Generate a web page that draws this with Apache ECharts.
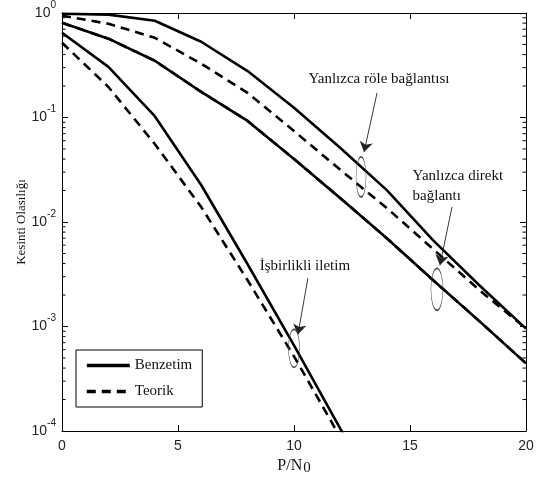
<!DOCTYPE html>
<html>
<head>
<meta charset="utf-8">
<script src="https://cdn.jsdelivr.net/npm/echarts@6/dist/echarts.min.js"></script>
<style>html,body{margin:0;padding:0;background:#fff}#c{width:543px;height:483px}</style>
</head>
<body>
<div id="c"></div>
<script>
// ---- data ----
const xValues = [0, 2, 4, 6, 8, 10, 12, 14, 16, 18, 20];
const xTicks = [0, 5, 10, 15, 20];
const yTickExponents = [0, -1, -2, -3, -4];

// Yanlızca röle bağlantısı (relay only)
const relaySim    = [0.984, 0.964, 0.843, 0.531, 0.278, 0.124, 0.0511, 0.0202, 0.00668, 0.00247, 0.000955];
const relayTheory = [0.942, 0.789, 0.579, 0.327, 0.172, 0.0743, 0.0315, 0.0136, 0.0055, 0.00222, 0.000955];
// Yanlızca direkt bağlantı (direct only) – theory coincides with simulation
const directSim    = [0.807, 0.568, 0.349, 0.176, 0.0927, 0.0401, 0.0169, 0.0070, 0.00277, 0.00112, 0.000444];
const directTheory = [0.807, 0.568, 0.349, 0.176, 0.0927, 0.0401, 0.0169, 0.0070, 0.00277, 0.00112, 0.000444];
// İşbirlikli iletim (cooperative)
const coopSim    = [0.647, 0.305, 0.103, 0.0226, 0.00394, 0.000661, 0.000105, 0.000016];
const coopTheory = [0.519, 0.196, 0.0558, 0.0139, 0.00277, 0.000518, 0.0000867];

const legendNames = ['Benzetim', 'Teorik'];
const annotations = {
  relay:  { text: 'Yanlızca röle bağlantısı', textAt: [13.66, 0.235], arrowFrom: [13.58, 0.172], arrowTo: [13.02, 0.0468], ellipseAt: [12.89, 0.027], size: [10, 40] },
  direct: { text: 'Yanlızca direkt\nbağlantı', textAt: [15.09, 0.0219], arrowFrom: [16.81, 0.0139], arrowTo: [16.29, 0.00386], ellipseAt: [16.16, 0.00227], size: [12, 42] },
  coop:   { text: 'İşbirlikli iletim', textAt: [10.47, 0.00378], arrowFrom: [10.6, 0.0029], arrowTo: [10.17, 0.00084], ellipseAt: [10.0, 0.000618], size: [11, 38] }
};

// ---- helpers ----
const pairs = arr => arr.map((v, i) => [xValues[i], v]);
const SERIF = '"Liberation Serif", "Times New Roman", serif';
const SANS = '"Liberation Sans", Arial, sans-serif';
const solidStyle = { color: '#000', width: 2.6, type: 'solid' };
const dashStyle = { color: '#000', width: 2.6, type: [9, 6] };

function lineSeries(name, arr, style, z) {
  return {
    type: 'line', name: name, data: pairs(arr), showSymbol: false, symbol: 'none',
    lineStyle: style, itemStyle: { color: '#000' }, z: z, silent: true, animation: false, clip: true
  };
}

// minor tick values for log axis (2..9 x 10^k)
const minorTicks = [];
for (let e = -4; e < 0; e++) for (let m = 2; m <= 9; m++) minorTicks.push(m * Math.pow(10, e));

const markPts = [];
const markLns = [];
Object.values(annotations).forEach(a => {
  const multi = a.text.indexOf('\n') >= 0;
  markPts.push({
    coord: a.textAt, symbol: 'rect', symbolSize: 1, itemStyle: { color: 'rgba(0,0,0,0)' },
    label: {
      show: true, formatter: a.text, position: multi ? 'right' : 'inside', distance: 0,
      fontFamily: SERIF, fontSize: 15, color: '#111', align: multi ? 'left' : 'center', lineHeight: 20
    }
  });
  markPts.push({
    coord: a.ellipseAt, symbol: 'circle', symbolSize: a.size,
    itemStyle: { color: 'rgba(0,0,0,0)', borderColor: '#444', borderWidth: 0.9 },
    label: { show: false }
  });
  markLns.push([{ coord: a.arrowFrom }, { coord: a.arrowTo }]);
});

const option = {
  animation: false,
  backgroundColor: '#fff',
  grid: { left: 62, right: 17, top: 13, bottom: 52, containLabel: false },
  legend: {
    data: legendNames, orient: 'vertical', left: 76, top: 350,
    itemWidth: 43, itemHeight: 14, itemGap: 11,
    padding: [8, 10, 8, 9], borderColor: '#000', borderWidth: 1, backgroundColor: '#fff',
    textStyle: { fontFamily: SERIF, fontSize: 15, color: '#111' },
    lineStyle: { width: 3.6 },
    itemStyle: { color: 'rgba(0,0,0,0)', borderWidth: 0, opacity: 0 },
    selectedMode: false
  },
  xAxis: [{
    type: 'value', min: 0, max: 20, interval: 5, position: 'bottom',
    name: '{a|P/N}{s|0}', nameLocation: 'middle', nameGap: 27, nameMoveOverlap: false,
    nameTextStyle: {
      rich: {
        a: { fontFamily: SERIF, fontSize: 16, lineHeight: 18, verticalAlign: 'top', color: '#111' },
        s: { fontFamily: SERIF, fontSize: 15, lineHeight: 18, padding: [5, 0, 0, 1], verticalAlign: 'bottom', color: '#111' }
      }
    },
    axisLine: { show: true, lineStyle: { color: '#000', width: 1 } },
    axisTick: { show: true, inside: true, length: 6, lineStyle: { color: '#000' } },
    axisLabel: { margin: 8, fontFamily: SANS, fontSize: 14, color: '#222',
      formatter: v => (xTicks.indexOf(v) >= 0 ? String(v) : '') },
    splitLine: { show: false }
  }, {
    type: 'value', min: 0, max: 20, interval: 5, position: 'top',
    axisLine: { show: true, onZero: false, lineStyle: { color: '#000', width: 1 } },
    axisTick: { show: true, inside: true, length: 6, lineStyle: { color: '#000' } },
    axisLabel: { show: false }, splitLine: { show: false }
  }],
  yAxis: [{
    type: 'log', logBase: 10, min: 1e-4, max: 1, position: 'left',
    name: 'Kesinti Olasılığı', nameLocation: 'middle', nameGap: 34, nameRotate: 90, nameMoveOverlap: false,
    nameTextStyle: { fontFamily: SERIF, fontSize: 13, color: '#111' },
    axisLine: { show: true, onZero: false, lineStyle: { color: '#000', width: 1 } },
    axisTick: { show: true, inside: true, length: 6, lineStyle: { color: '#000' } },
    axisLabel: {
      margin: 6,
      formatter: v => {
        const e = Math.round(Math.log10(v));
        return yTickExponents.indexOf(e) >= 0 ? '{b|10}{s|' + e + '}' : '';
      },
      rich: {
        b: { fontFamily: SANS, fontSize: 14, lineHeight: 16, color: '#222' },
        s: { fontFamily: SANS, fontSize: 10, lineHeight: 12, padding: [0, 0, 16, 0], color: '#222' }
      }
    },
    splitLine: { show: false }
  }, {
    type: 'log', logBase: 10, min: 1e-4, max: 1, position: 'right',
    axisLine: { show: true, onZero: false, lineStyle: { color: '#000', width: 1 } },
    axisTick: { show: true, inside: true, length: 6, lineStyle: { color: '#000' } },
    axisLabel: { show: false }, splitLine: { show: false }
  }],
  series: [
    lineSeries('Teorik', relayTheory, dashStyle, 2),
    lineSeries('Teorik', directTheory, dashStyle, 2),
    lineSeries('Teorik', coopTheory, dashStyle, 2),
    lineSeries('Benzetim', relaySim, solidStyle, 3),
    lineSeries('Benzetim', directSim, solidStyle, 3),
    lineSeries('Benzetim', coopSim, solidStyle, 3),
    {
      type: 'custom', name: 'minorTicks', silent: true, z: 1,
      data: minorTicks.map(v => [0, v]),
      renderItem: (params, api) => {
        const v = api.value(1);
        const l = api.coord([0, v]);
        const r = api.coord([20, v]);
        const st = { stroke: '#000', lineWidth: 1 };
        return { type: 'group', children: [
          { type: 'line', shape: { x1: l[0], y1: l[1], x2: l[0] + 3.5, y2: l[1] }, style: st },
          { type: 'line', shape: { x1: r[0], y1: r[1], x2: r[0] - 3.5, y2: r[1] }, style: st }
        ] };
      }
    },
    {
      type: 'line', name: 'annotations', data: [], silent: true, z: 5,
      markPoint: { silent: true, animation: false, data: markPts },
      markLine: {
        silent: true, animation: false, symbol: ['none', 'arrow'], symbolSize: 10,
        lineStyle: { color: '#222', width: 0.9, type: 'solid' }, label: { show: false },
        data: markLns
      }
    }
  ]
};

const chart = echarts.init(document.getElementById('c'), null, { renderer: 'canvas' });
chart.setOption(option);
</script>
</body>
</html>
